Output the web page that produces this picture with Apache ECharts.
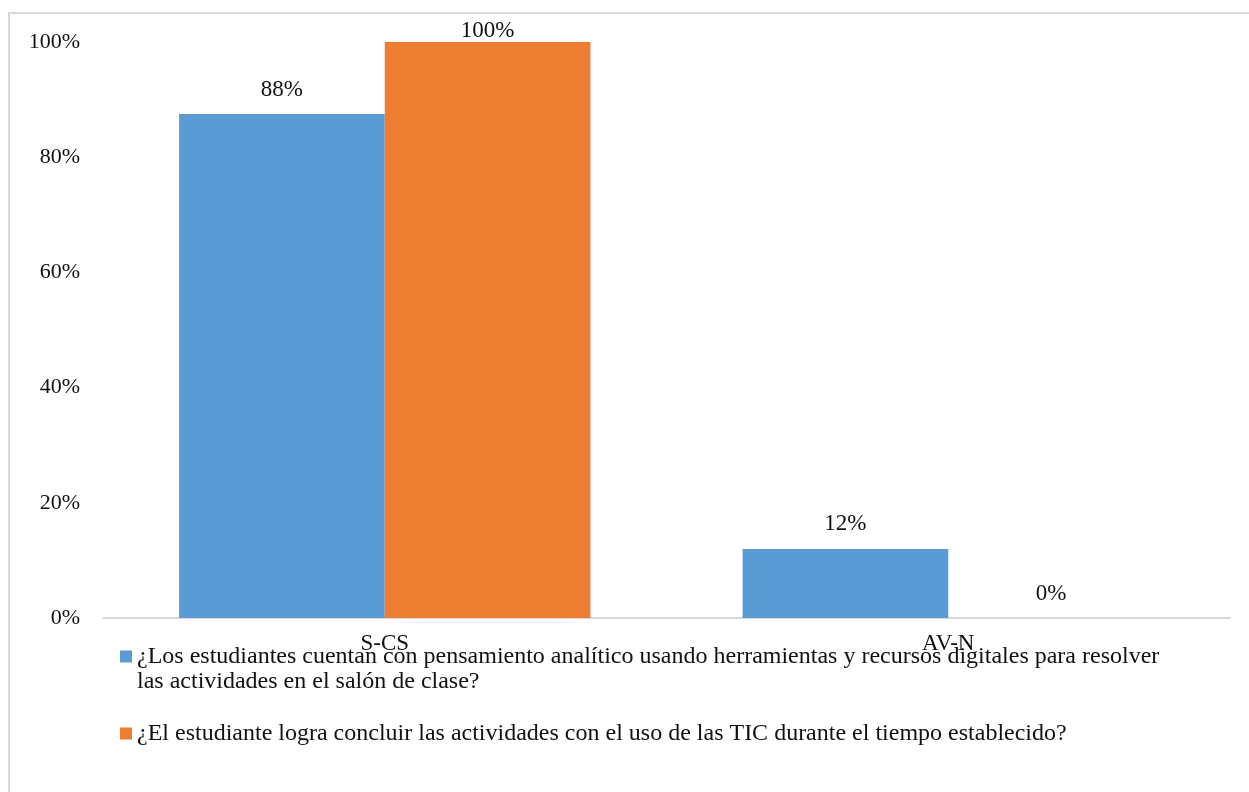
<!DOCTYPE html>
<html>
<head>
<meta charset="utf-8">
<script src="https://cdn.jsdelivr.net/npm/echarts@6/dist/echarts.min.js"></script>
<style>
  html, body { margin: 0; padding: 0; background: #fff; }
  #chart { width: 1249px; height: 792px; }
</style>
</head>
<body>
<div id="chart"></div>
<script>
const categories = ['S-CS', 'AV-N']
const seriesNames = [
  '¿Los estudiantes cuentan con pensamiento analítico usando herramientas y recursos digitales para resolver las actividades en el salón de clase?',
  '¿El estudiante logra concluir las actividades con el uso de las TIC durante el tiempo establecido?'
]
const analitico = [87.5, 12]
const concluye = [100, 0]
const colors = ['#5b9bd5', '#ed7d31']

const font = "'Liberation Serif', 'Times New Roman', serif"

// excel pushes the 100% label down so it stays inside the plot
const toData = (vals) => vals.map(v => v >= 100 ? { value: v, label: { distance: 0 } } : v)

const makeSeries = (name, vals, color) => ({
  name: name,
  type: 'bar',
  data: toData(vals),
  itemStyle: { color: color },
  barGap: '0%',
  barCategoryGap: '27%',
  label: {
    show: true,
    position: 'top',
    distance: 13,
    formatter: (p) => Math.round(p.value) + '%',
    fontFamily: font,
    fontSize: 23,
    color: '#111'
  }
})

// wrap the long legend entry the way the original does, after "resolver"
// leading blank line keeps the marker level with the first text line
const legendText = (name) => {
  const cut = name.indexOf(' las actividades en el')
  if (cut < 0) return name
  return '\n' + name.slice(0, cut) + '\n' + name.slice(cut + 1)
}

const chart = echarts.init(document.getElementById('chart'))
chart.setOption({
  animation: false,
  textStyle: { fontFamily: font },
  graphic: [{
    type: 'rect',
    shape: { x: 9, y: 13, width: 1300, height: 850 },
    style: { fill: 'none', stroke: '#d9d9d9', lineWidth: 2 }
  }],
  grid: { left: 103, right: 19, top: 42, bottom: 174 },
  legend: {
    orient: 'vertical',
    left: 115,
    top: 614,
    itemWidth: 12,
    itemHeight: 12,
    itemGap: 27,
    icon: 'rect',
    formatter: legendText,
    textStyle: {
      fontFamily: font,
      fontSize: 24,
      lineHeight: 25,
      color: '#111'
    }
  },
  xAxis: {
    type: 'category',
    data: categories,
    axisLine: { lineStyle: { color: '#d9d9d9', width: 2 } },
    axisTick: { show: false },
    axisLabel: { fontFamily: font, fontSize: 23, color: '#111', margin: 14 }
  },
  yAxis: {
    type: 'value',
    min: 0,
    max: 100,
    interval: 20,
    splitLine: { show: false },
    axisLine: { show: false },
    axisLabel: { formatter: '{value}%', fontFamily: font, fontSize: 22, color: '#111', margin: 23 }
  },
  series: [
    makeSeries(seriesNames[0], analitico, colors[0]),
    makeSeries(seriesNames[1], concluye, colors[1])
  ]
})
</script>
</body>
</html>
